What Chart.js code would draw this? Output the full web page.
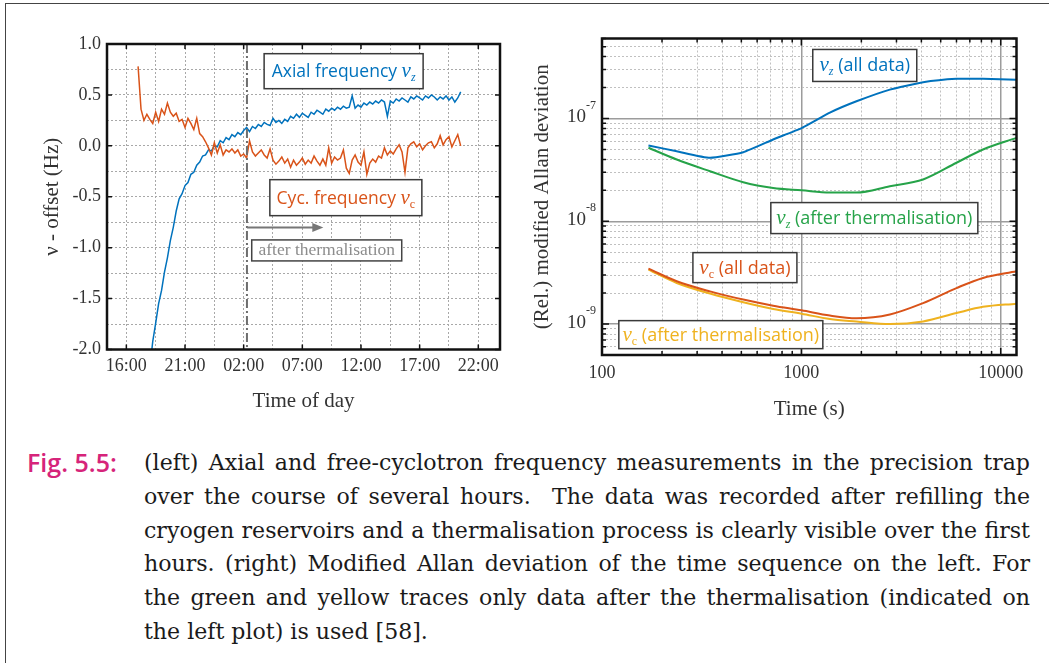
<!DOCTYPE html>
<html>
<head>
<meta charset="utf-8">
<script src="https://cdn.jsdelivr.net/npm/chart.js@4.4.1/dist/chart.umd.min.js"></script>
<style>
  html, body { margin: 0; padding: 0; background: #fff; }
  #page { position: relative; width: 1049px; height: 663px; overflow: hidden; }
  #frame { position: absolute; left: 5px; top: 3px; width: 1100px; height: 700px;
           border-left: 1.5px solid #444; border-top: 1.5px solid #444; }
  #left { position: absolute; left: 0; top: 0; }
  #right { position: absolute; left: 520px; top: 0; }
  #figlabel { position: absolute; left: 27px; top: 446px; font: 600 23px "Open Sans", sans-serif;
              color: #d6247a; line-height: 33.8px; white-space: nowrap; }
  #caption { position: absolute; left: 144px; top: 446px; width: 886px;
             font: 21px "DejaVu Serif", serif; color: #1a1a1a; line-height: 33.8px; }
  #caption div { text-align: justify; text-align-last: justify; white-space: nowrap; }
  #caption div.last { text-align-last: left; }
</style>
</head>
<body>
<div id="page">
  <div id="frame"></div>
  <canvas id="left" width="525" height="420"></canvas>
  <canvas id="right" width="529" height="425"></canvas>
  <div id="figlabel">Fig. 5.5:</div>
  <div id="caption">
    <div>(left) Axial and free-cyclotron frequency measurements in the precision trap</div>
    <div>over the course of several hours.&nbsp; The data was recorded after refilling the</div>
    <div>cryogen reservoirs and a thermalisation process is clearly visible over the first</div>
    <div>hours. (right) Modified Allan deviation of the time sequence on the left. For</div>
    <div>the green and yellow traces only data after the thermalisation (indicated on</div>
    <div class="last">the left plot) is used [58].</div>
  </div>
</div>
<script>
// ---- left plot: frequency offset vs time of day (hours counted from 00:00 of day 1) ----
const sampleHours = [
  17.00, 17.25, 17.50, 17.75, 18.00, 18.25, 18.50, 18.75,
  19.00, 19.25, 19.50, 19.75, 20.00, 20.25, 20.50, 20.75,
  21.00, 21.25, 21.50, 21.75, 22.00, 22.25, 22.50, 22.75,
  23.00, 23.25, 23.50, 23.75, 24.00, 24.25, 24.50, 24.75,
  25.00, 25.25, 25.50, 25.75, 26.00, 26.25, 26.50, 26.75,
  27.00, 27.25, 27.50, 27.75, 28.00, 28.25, 28.50, 28.75,
  29.00, 29.25, 29.50, 29.75, 30.00, 30.25, 30.50, 30.75,
  31.00, 31.25, 31.50, 31.75, 32.00, 32.25, 32.50, 32.75,
  33.00, 33.25, 33.50, 33.75, 34.00, 34.25, 34.50, 34.75,
  35.00, 35.25, 35.50, 35.75, 36.00, 36.25, 36.50, 36.75,
  37.00, 37.25, 37.50, 37.75, 38.00, 38.25, 38.50, 38.75,
  39.00, 39.25, 39.50, 39.75, 40.00, 40.25, 40.50, 40.75,
  41.00, 41.25, 41.50, 41.75, 42.00, 42.25, 42.50, 42.75,
  43.00, 43.25, 43.50, 43.75, 44.00, 44.25, 44.50
];
const axialOffset = [
  -3.60, -3.15, -2.78, -2.46, -2.18, -1.92, -1.74, -1.55,
  -1.42, -1.24, -1.10, -0.93, -0.80, -0.64, -0.52, -0.47,
  -0.39, -0.36, -0.28, -0.26, -0.19, -0.16, -0.10, -0.09,
  -0.04, -0.05, 0.00, -0.01, 0.05, 0.03, 0.08, 0.06,
  0.11, 0.09, 0.13, 0.11, 0.15, 0.18, 0.14, 0.19,
  0.17, 0.21, 0.19, 0.23, 0.21, 0.20, 0.27, 0.23,
  0.25, 0.22, 0.26, 0.24, 0.29, 0.27, 0.31, 0.28,
  0.32, 0.30, 0.28, 0.33, 0.31, 0.35, 0.33, 0.31,
  0.36, 0.34, 0.37, 0.35, 0.38, 0.36, 0.39, 0.37,
  0.38, 0.49, 0.37, 0.40, 0.38, 0.42, 0.40, 0.43,
  0.41, 0.44, 0.42, 0.45, 0.43, 0.29, 0.44, 0.42,
  0.46, 0.44, 0.47, 0.45, 0.43, 0.48, 0.46, 0.49,
  0.47, 0.45, 0.49, 0.47, 0.50, 0.48, 0.45, 0.48,
  0.46, 0.49, 0.45, 0.48, 0.43, 0.47, 0.53
];
const cycOffset = [
  0.78, 0.36, 0.25, 0.31, 0.26, 0.22, 0.33, 0.24,
  0.36, 0.31, 0.42, 0.33, 0.29, 0.32, 0.24, 0.26,
  0.18, 0.27, 0.22, 0.16, 0.27, 0.12, 0.09, 0.04,
  -0.02, -0.09, 0.03, -0.07, 0.01, -0.09, -0.04, -0.06,
  -0.03, -0.07, -0.04, -0.10, -0.08, -0.12, 0.05, -0.06,
  -0.10, -0.07, -0.04, -0.09, -0.12, -0.03, -0.14, -0.18,
  -0.15, -0.11, -0.17, -0.13, -0.21, -0.14, -0.19, -0.16,
  -0.12, -0.18, -0.14, -0.17, -0.10, -0.15, -0.19, -0.13,
  -0.19, -0.02, -0.17, -0.11, -0.14, -0.12, -0.04, -0.22,
  -0.27, -0.14, -0.09, -0.16, -0.19, -0.06, -0.28, -0.17,
  -0.13, -0.16, -0.10, -0.12, -0.02, -0.09, -0.05, -0.08,
  -0.03, 0.01, -0.06, -0.26, -0.02, 0.02, 0.04, -0.01,
  0.02, -0.04, 0.00, 0.03, 0.04, -0.02, 0.02, 0.10,
  0.01, 0.06, 0.09, -0.01, 0.05, 0.11, 0.00
];
const gridHours = [16, 18.5, 21, 23.5, 26, 28.5, 31, 33.5, 36, 38.5, 41, 43.5, 46];
const labelHours = [16, 21, 26, 31, 36, 41, 46];
const timeLabels = ['16:00', '21:00', '02:00', '07:00', '12:00', '17:00', '22:00'];
const thermalisationHour = 26.28;

// ---- right plot: modified Allan deviation ----
const tau = [171, 237, 348, 511, 722, 1002, 1390, 1890, 2780, 4080, 6000, 8150, 12000];
const adevAxialAll = [5.46e-8, 4.80e-8, 4.14e-8, 4.70e-8, 6.25e-8, 8.05e-8, 1.14e-7, 1.47e-7, 1.91e-7, 2.25e-7, 2.43e-7, 2.43e-7, 2.38e-7];
const adevAxialAfter = [5.19e-8, 3.99e-8, 3.07e-8, 2.40e-8, 2.11e-8, 2.00e-8, 1.90e-8, 1.90e-8, 2.19e-8, 2.55e-8, 3.71e-8, 4.99e-8, 6.48e-8];
const adevCycAll = [3.46e-9, 2.61e-9, 2.08e-9, 1.73e-9, 1.51e-9, 1.36e-9, 1.21e-9, 1.14e-9, 1.24e-9, 1.60e-9, 2.24e-9, 2.81e-9, 3.26e-9];
const adevCycAfter = [3.39e-9, 2.51e-9, 1.98e-9, 1.63e-9, 1.40e-9, 1.26e-9, 1.12e-9, 1.06e-9, 1.00e-9, 1.06e-9, 1.28e-9, 1.47e-9, 1.58e-9];
const tauGrid = [100, 200, 300, 400, 500, 600, 700, 800, 900,
  1000, 2000, 3000, 4000, 5000, 6000, 7000, 8000, 9000, 10000];
const tauLabels = [100, 1000, 10000];
const adevGrid = [5e-10, 6e-10, 7e-10, 8e-10, 9e-10,
  1e-9, 2e-9, 3e-9, 4e-9, 5e-9, 6e-9, 7e-9, 8e-9, 9e-9,
  1e-8, 2e-8, 3e-8, 4e-8, 5e-8, 6e-8, 7e-8, 8e-8, 9e-8,
  1e-7, 2e-7, 3e-7, 4e-7, 5e-7, 6e-7];
const adevLabelExp = [-9, -8, -7];

const BLUE = '#0072BD', ORANGE = '#D95319', GREEN = '#26A349', YELLOW = '#EFB21F';
const SERIF = '"Liberation Serif", "DejaVu Serif", serif';
const SANS = '"Open Sans", sans-serif';
const INK = '#333';

// size the caption so its widest justified line fits the column
(function fitCaption() {
  const c = document.createElement('canvas').getContext('2d');
  const cap = document.getElementById('caption');
  c.font = '100px "DejaVu Serif"';
  let widest = 0;
  Array.from(cap.children).forEach(d => { widest = Math.max(widest, c.measureText(d.textContent).width); });
  cap.style.fontSize = (100 * 882 / widest).toFixed(2) + 'px';
  const fig = document.getElementById('figlabel');
  c.font = '600 100px "Open Sans"';
  const fw = c.measureText(fig.textContent).width;
  fig.style.fontSize = Math.min(25, 100 * 104 / fw).toFixed(2) + 'px';
})();

function isDecade(v) {
  const l = Math.log10(v);
  return Math.abs(l - Math.round(l)) < 1e-6;
}

// white box with a border and a centred label made of several text parts
function drawTag(ctx, cx, cy, w, h, parts, color, borderColor) {
  ctx.save();
  ctx.fillStyle = '#fff';
  ctx.fillRect(cx - w / 2, cy - h / 2, w, h);
  ctx.strokeStyle = borderColor || '#3a3a3a';
  ctx.lineWidth = 1.5;
  ctx.strokeRect(cx - w / 2, cy - h / 2, w, h);
  let total = 0;
  parts.forEach(p => { ctx.font = p.font; p.w = ctx.measureText(p.text).width; total += p.w; });
  let x = cx - total / 2;
  ctx.fillStyle = color;
  ctx.textBaseline = 'alphabetic';
  ctx.textAlign = 'left';
  parts.forEach(p => {
    ctx.font = p.font;
    ctx.fillText(p.text, x, cy + 6 + (p.dy || 0));
    x += p.w;
  });
  ctx.restore();
}

function nu(sub, upright) {
  return [
    { text: 'ν', font: 'italic 21px ' + SERIF },
    { text: sub, font: (upright ? '' : 'italic ') + '12px ' + SERIF, dy: 4 }
  ];
}

const leftDecor = {
  id: 'leftDecor',
  afterDatasetsDraw(chart) {
    const { ctx, chartArea: a, scales: { x, y } } = chart;
    ctx.save();
    // start of the thermalised part
    const tx = x.getPixelForValue(thermalisationHour);
    ctx.strokeStyle = '#6e6e6e';
    ctx.lineWidth = 2;
    ctx.setLineDash([9, 3, 2, 3]);
    ctx.beginPath(); ctx.moveTo(tx, a.top); ctx.lineTo(tx, a.bottom); ctx.stroke();
    ctx.setLineDash([]);

    // inner tick marks
    ctx.strokeStyle = '#111';
    ctx.lineWidth = 1.5;
    ctx.beginPath();
    labelHours.forEach(h => {
      const px = x.getPixelForValue(h);
      ctx.moveTo(px, a.top); ctx.lineTo(px, a.top + 5);
      ctx.moveTo(px, a.bottom); ctx.lineTo(px, a.bottom - 5);
    });
    y.ticks.filter(t => Math.abs(t.value * 2 - Math.round(t.value * 2)) < 1e-9).forEach(t => {
      const py = y.getPixelForValue(t.value);
      ctx.moveTo(a.left, py); ctx.lineTo(a.left + 5, py);
      ctx.moveTo(a.right, py); ctx.lineTo(a.right - 5, py);
    });
    ctx.stroke();
    ctx.lineWidth = 2.5;
    ctx.strokeRect(a.left, a.top, a.width, a.height);

    // arrow "after thermalisation"
    const ay = y.getPixelForValue(-0.802);
    const ax2 = x.getPixelForValue(32.79);
    ctx.strokeStyle = '#777';
    ctx.fillStyle = '#777';
    ctx.lineWidth = 2;
    ctx.beginPath(); ctx.moveTo(tx, ay); ctx.lineTo(ax2 - 9, ay); ctx.stroke();
    ctx.beginPath(); ctx.moveTo(ax2, ay); ctx.lineTo(ax2 - 11, ay - 4.5); ctx.lineTo(ax2 - 11, ay + 4.5); ctx.closePath(); ctx.fill();
    ctx.restore();

    drawTag(ctx, x.getPixelForValue(34.52), y.getPixelForValue(0.733), 159, 35,
      [{ text: 'Axial frequency ', font: '17.5px ' + SANS }].concat(nu('z')), BLUE);
    drawTag(ctx, x.getPixelForValue(34.71), y.getPixelForValue(-0.509), 152, 36,
      [{ text: 'Cyc. frequency ', font: '17.5px ' + SANS }].concat(nu('c', true)), ORANGE);
    drawTag(ctx, x.getPixelForValue(33.08), y.getPixelForValue(-1.027), 150, 21,
      [{ text: 'after thermalisation', font: '17.5px ' + SERIF, dy: -1 }], '#8c8c8c', '#444');
  }
};

const rightDecor = {
  id: 'rightDecor',
  afterDatasetsDraw(chart) {
    const { ctx, chartArea: a, scales: { x, y } } = chart;
    ctx.save();
    ctx.strokeStyle = '#111';
    ctx.lineWidth = 1.5;
    ctx.beginPath();
    tauGrid.forEach(v => {
      const px = x.getPixelForValue(v);
      const len = isDecade(v) ? 7 : 4;
      ctx.moveTo(px, a.top); ctx.lineTo(px, a.top + len);
      ctx.moveTo(px, a.bottom); ctx.lineTo(px, a.bottom - len);
    });
    adevGrid.forEach(v => {
      const py = y.getPixelForValue(v);
      const len = isDecade(v) ? 7 : 4;
      ctx.moveTo(a.left, py); ctx.lineTo(a.left + len, py);
      ctx.moveTo(a.right, py); ctx.lineTo(a.right - len, py);
    });
    ctx.stroke();
    ctx.lineWidth = 2.5;
    ctx.strokeRect(a.left, a.top, a.width, a.height);

    // y tick labels as powers of ten
    ctx.fillStyle = INK;
    ctx.textBaseline = 'middle';
    adevLabelExp.forEach(e => {
      const py = y.getPixelForValue(Math.pow(10, e));
      ctx.font = '12px ' + SERIF;
      const ew = ctx.measureText(String(e)).width;
      ctx.textAlign = 'left';
      ctx.fillText(String(e), a.left - 6 - ew, py - 13);
      ctx.font = '19px ' + SERIF;
      ctx.textAlign = 'right';
      ctx.fillText('10', a.left - 6 - ew, py - 1);
    });
    ctx.restore();

    drawTag(ctx, x.getPixelForValue(2080), y.getPixelForValue(3.28e-7), 104, 32,
      nu('z').concat([{ text: ' (all data)', font: '18px ' + SANS }]), BLUE);
    drawTag(ctx, x.getPixelForValue(2323), y.getPixelForValue(1.074e-8), 207, 31,
      nu('z').concat([{ text: ' (after thermalisation)', font: '18px ' + SANS }]), GREEN);
    drawTag(ctx, x.getPixelForValue(521), y.getPixelForValue(3.54e-9), 104, 30,
      nu('c', true).concat([{ text: ' (all data)', font: '18px ' + SANS }]), ORANGE);
    drawTag(ctx, x.getPixelForValue(394.5), y.getPixelForValue(7.89e-10), 204, 28,
      nu('c', true).concat([{ text: ' (after thermalisation)', font: '18px ' + SANS }]), YELLOW);
  }
};

function series(xs, ys) {
  return xs.map((v, i) => ({ x: v, y: ys[i] }));
}

new Chart(document.getElementById('left'), {
  type: 'line',
  data: {
    datasets: [
      { label: 'Cyc. frequency', data: series(sampleHours, cycOffset), borderColor: ORANGE, borderWidth: 1.5, pointRadius: 0, tension: 0 },
      { label: 'Axial frequency', data: series(sampleHours, axialOffset), borderColor: BLUE, borderWidth: 1.5, pointRadius: 0, tension: 0 }
    ]
  },
  options: {
    responsive: false,
    animation: false,
    layout: { autoPadding: false, padding: { left: 30, top: 44, right: 25, bottom: 0 } },
    plugins: { legend: { display: false }, tooltip: { enabled: false } },
    scales: {
      x: {
        type: 'linear', min: 14.35, max: 47.85,
        afterBuildTicks: s => { s.ticks = gridHours.map(v => ({ value: v })); },
        afterFit: s => { s.height = 70.5; },
        ticks: {
          autoSkip: false, maxRotation: 0, padding: 6, color: INK,
          font: { family: SERIF, size: 18 },
          callback: v => { const i = labelHours.indexOf(v); return i >= 0 ? timeLabels[i] : ''; }
        },
        grid: { color: '#a8a8a8', lineWidth: 1, drawTicks: false },
        border: { display: false, dash: [2, 2] },
        title: { display: true, text: 'Time of day', color: INK, font: { family: SERIF, size: 21 }, padding: { top: 0, bottom: 6.4 } }
      },
      y: {
        min: -2, max: 1,
        afterFit: s => { s.width = 77; },
        ticks: {
          stepSize: 0.25, padding: 6, color: INK, font: { family: SERIF, size: 18 },
          callback: v => Math.abs(v * 2 - Math.round(v * 2)) < 1e-9 ? v.toFixed(1) : ''
        },
        grid: { color: '#a8a8a8', lineWidth: 1, drawTicks: false },
        border: { display: false, dash: [2, 2] },
        title: { display: true, text: 'ν - offset (Hz)', color: INK, font: { family: SERIF, size: 21 }, padding: { top: 9.4, bottom: 0 } }
      }
    }
  },
  plugins: [leftDecor]
});

new Chart(document.getElementById('right'), {
  type: 'line',
  data: {
    datasets: [
      { label: 'nu_z all', data: series(tau, adevAxialAll), borderColor: BLUE, borderWidth: 2, pointRadius: 0, tension: 0.15 },
      { label: 'nu_z after', data: series(tau, adevAxialAfter), borderColor: GREEN, borderWidth: 2, pointRadius: 0, cubicInterpolationMode: 'monotone' },
      { label: 'nu_c all', data: series(tau, adevCycAll), borderColor: ORANGE, borderWidth: 2, pointRadius: 0, cubicInterpolationMode: 'monotone' },
      { label: 'nu_c after', data: series(tau, adevCycAfter), borderColor: YELLOW, borderWidth: 2, pointRadius: 0, cubicInterpolationMode: 'monotone' }
    ]
  },
  options: {
    responsive: false,
    animation: false,
    layout: { autoPadding: false, padding: { left: 0, top: 38.5, right: 32.5, bottom: 0 } },
    plugins: { legend: { display: false }, tooltip: { enabled: false } },
    scales: {
      x: {
        type: 'logarithmic', min: 100, max: 12000,
        afterBuildTicks: s => { s.ticks = tauGrid.map(v => ({ value: v })); },
        afterFit: s => { s.height = 70; },
        ticks: {
          autoSkip: false, maxRotation: 0, padding: 7, color: INK,
          font: { family: SERIF, size: 18 },
          callback: v => tauLabels.includes(v) ? String(v) : ''
        },
        grid: {
          drawTicks: false,
          color: c => (c.tick && isDecade(c.tick.value)) ? '#9c9c9c' : '#c0c0c0',
          lineWidth: c => (c.tick && isDecade(c.tick.value)) ? 1.5 : 1
        },
        border: { display: false, dash: c => (c.tick && isDecade(c.tick.value)) ? [] : [2, 2] },
        title: { display: true, text: 'Time (s)', color: INK, font: { family: SERIF, size: 21 }, padding: { top: 0, bottom: 3.4 } }
      },
      y: {
        type: 'logarithmic', min: 5e-10, max: 6e-7,
        afterBuildTicks: s => { s.ticks = adevGrid.map(v => ({ value: v })); },
        afterFit: s => { s.width = 82; },
        ticks: { display: false },
        grid: {
          drawTicks: false,
          color: c => (c.tick && isDecade(c.tick.value)) ? '#9c9c9c' : '#c0c0c0',
          lineWidth: c => (c.tick && isDecade(c.tick.value)) ? 1.5 : 1
        },
        border: { display: false, dash: c => (c.tick && isDecade(c.tick.value)) ? [] : [2, 2] },
        title: { display: true, text: '(Rel.) modified Allan deviation', color: INK, font: { family: SERIF, size: 21 }, padding: { top: 9.4, bottom: 0 } }
      }
    }
  },
  plugins: [rightDecor]
});
</script>
</body>
</html>
